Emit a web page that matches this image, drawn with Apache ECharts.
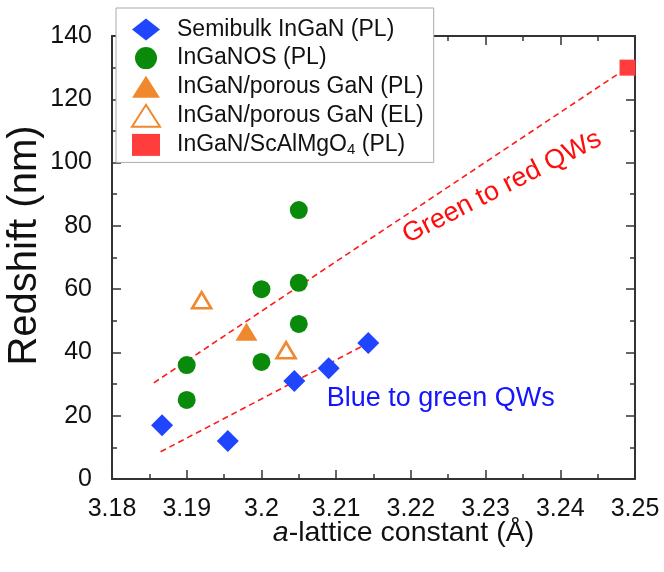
<!DOCTYPE html>
<html>
<head>
<meta charset="utf-8">
<script src="https://cdn.jsdelivr.net/npm/echarts@6/dist/echarts.min.js"></script>
<style>
  html, body { margin: 0; padding: 0; background: #fff; }
  #chart { width: 664px; height: 572px; }
</style>
</head>
<body>
<div id="chart"></div>
<script>
// data: [a-lattice constant (Å), redshift (nm)]
const semibulk = [[3.1867, 17], [3.1955, 12], [3.2044, 31], [3.2090, 35], [3.2143, 43]];
const ingaNos = [[3.19, 36], [3.19, 25], [3.20, 60], [3.20, 37], [3.205, 62], [3.205, 49], [3.205, 85]];
const porousPL = [[3.198, 46.5]];
const porousEL = [[3.192, 56.5], [3.2033, 40.7]];
const scalmgo = [[3.249, 130]];

// guide lines
const greenRedLine = [[3.1856, 30.4], [3.249, 130]];
const blueGreenLine = [[3.1865, 8.6], [3.2148, 43.6]];

// annotation anchors (data coords)
const greenRedLabelAt = [3.2322, 92.2];
const blueGreenLabelAt = [3.224, 25.5];

const seriesNames = [
  'Semibulk InGaN (PL)',
  'InGaNOS (PL)',
  'InGaN/porous GaN (PL)',
  'InGaN/porous GaN (EL)',
  'InGaN/ScAlMgO4 (PL)'
];

const FONT = '"Liberation Sans", Arial, sans-serif';
const AXIS_COLOR = '#333';

let myChart = echarts.init(document.getElementById('chart'));

function baseX(extra) {
  return Object.assign({
    type: 'value',
    min: 3.18,
    max: 3.25,
    interval: 0.01,
    axisLine: { show: true, onZero: false, lineStyle: { color: AXIS_COLOR, width: 2 } },
    axisTick: { show: true, inside: true, length: 9, lineStyle: { color: AXIS_COLOR, width: 1.5 } },
    minorTick: { show: true, splitNumber: 2, length: 5, lineStyle: { color: AXIS_COLOR, width: 1.5 } },
    splitLine: { show: false }
  }, extra);
}

function baseY(extra) {
  return Object.assign({
    type: 'value',
    min: 0,
    max: 140,
    interval: 20,
    axisLine: { show: true, onZero: false, lineStyle: { color: AXIS_COLOR, width: 2 } },
    axisTick: { show: true, inside: true, length: 9, lineStyle: { color: AXIS_COLOR, width: 1.5 } },
    minorTick: { show: true, splitNumber: 2, length: 5, lineStyle: { color: AXIS_COLOR, width: 1.5 } },
    splitLine: { show: false }
  }, extra);
}

let option = {
  backgroundColor: '#fff',
  animation: false,
  textStyle: { fontFamily: FONT },
  grid: { left: 112, right: 29, top: 36, bottom: 93, containLabel: false, outerBoundsMode: 'none' },
  legend: {
    data: seriesNames,
    orient: 'vertical',
    left: 116,
    top: 8,
    padding: [10, 10, 5, 15],
    itemGap: 5.6,
    itemWidth: 28,
    itemHeight: 22,
    backgroundColor: '#fff',
    borderColor: '#aaa',
    borderWidth: 1,
    borderRadius: 0,
    textStyle: {
      fontFamily: FONT,
      fontSize: 23,
      color: '#111',
      padding: [0, 0, 0, 12],
      rich: {
        sub: { fontSize: 15, fontFamily: FONT, color: '#111', padding: [10, 0, 0, 0] },
        n: { fontSize: 23, fontFamily: FONT, color: '#111' }
      }
    },
    formatter: function (name) {
      if (name.indexOf('ScAlMgO4') >= 0) {
        return '{n|InGaN/ScAlMgO}{sub|4}{n| (PL)}';
      }
      return name;
    }
  },
  xAxis: [
    baseX({
      position: 'bottom',
      name: '{i|a}-lattice constant (Å)',
      nameLocation: 'middle',
      nameGap: 40,
      nameMoveOverlap: false,
      nameTextStyle: {
        fontFamily: FONT,
        fontSize: 28.5,
        color: '#111',
        verticalAlign: 'top',
        padding: [0, 0, 0, 60],
        rich: { i: { fontStyle: 'italic', fontSize: 28.5, fontFamily: FONT, color: '#111' } }
      },
      axisLabel: { fontSize: 25, color: '#111', margin: 18, fontFamily: FONT }
    }),
    baseX({ position: 'top', axisLabel: { show: false } })
  ],
  yAxis: [
    baseY({
      position: 'left',
      name: 'Redshift (nm)',
      nameLocation: 'middle',
      nameGap: 67,
      nameMoveOverlap: false,
      nameTextStyle: { fontFamily: FONT, fontSize: 40, color: '#111', padding: [0, 0, 0, 24] },
      axisLabel: { fontSize: 25, color: '#111', margin: 20, fontFamily: FONT }
    }),
    baseY({ position: 'right', axisLabel: { show: false } })
  ],
  series: [
    {
      type: 'line',
      data: greenRedLine,
      symbol: 'none',
      silent: true,
      lineStyle: { color: '#ff1a1a', width: 1.6, type: [6, 4] },
      z: 1
    },
    {
      type: 'line',
      data: blueGreenLine,
      symbol: 'none',
      silent: true,
      lineStyle: { color: '#ff1a1a', width: 1.6, type: [6, 4] },
      z: 1
    },
    {
      name: seriesNames[0],
      type: 'scatter',
      symbol: 'diamond',
      symbolSize: [22, 22],
      itemStyle: { color: '#1f45ff', opacity: 1 },
      data: semibulk,
      z: 3
    },
    {
      name: seriesNames[1],
      type: 'scatter',
      symbol: 'circle',
      symbolSize: 18,
      itemStyle: { color: '#0a8a0a', opacity: 1 },
      data: ingaNos,
      z: 3
    },
    {
      name: seriesNames[2],
      type: 'scatter',
      symbol: 'triangle',
      symbolSize: [22, 18],
      itemStyle: { color: '#f0882e', opacity: 1 },
      data: porousPL,
      z: 3
    },
    {
      name: seriesNames[3],
      type: 'scatter',
      symbol: 'triangle',
      symbolSize: [19, 16],
      itemStyle: { color: '#fff', borderColor: '#f0882e', borderWidth: 2.6, opacity: 1 },
      data: porousEL,
      z: 3
    },
    {
      name: seriesNames[4],
      type: 'scatter',
      symbol: 'rect',
      symbolSize: [16, 16],
      itemStyle: { color: '#ff3d3d', opacity: 1 },
      data: scalmgo,
      z: 3
    }
  ]
};

myChart.setOption(option);

// annotations placed through the axes
const p1 = myChart.convertToPixel({ xAxisIndex: 0, yAxisIndex: 0 }, greenRedLabelAt);
const p2 = myChart.convertToPixel({ xAxisIndex: 0, yAxisIndex: 0 }, blueGreenLabelAt);
myChart.setOption({
  graphic: [
    {
      type: 'text',
      x: p1[0],
      y: p1[1],
      rotation: 27 * Math.PI / 180,
      style: {
        text: 'Green to red QWs',
        fontFamily: FONT,
        fontSize: 27,
        fill: '#ff0d0d',
        align: 'center',
        verticalAlign: 'middle'
      },
      z: 10
    },
    {
      type: 'text',
      x: p2[0],
      y: p2[1],
      style: {
        text: 'Blue to green QWs',
        fontFamily: FONT,
        fontSize: 27,
        fill: '#1414ff',
        align: 'center',
        verticalAlign: 'middle'
      },
      z: 10
    }
  ]
});

window.onresize = function () {
  myChart.resize();
};
</script>
</body>
</html>
